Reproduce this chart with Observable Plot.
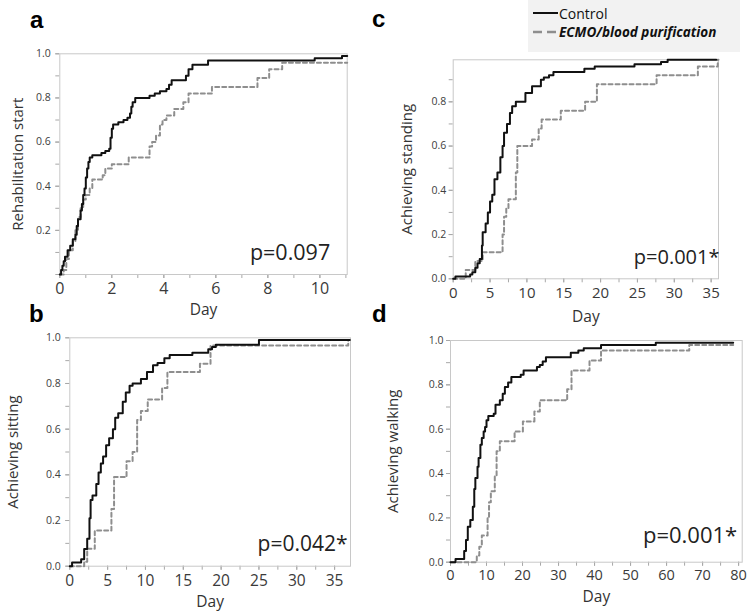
<!DOCTYPE html>
<html>
<head>
<meta charset="utf-8">
<script src="https://cdn.jsdelivr.net/npm/d3@7"></script>
<script src="https://cdn.jsdelivr.net/npm/@observablehq/plot@0.6"></script>
<style>
  body { margin: 0; background: #fff; }
  #chart { position: relative; width: 750px; height: 613px; overflow: hidden; font-family: 'Open Sans', sans-serif; }
  .panel { position: absolute; }
  .tag { position: absolute; font: bold 24px Arial, 'Liberation Sans', sans-serif; line-height: 24px; color: #000; }
  #legend { position: absolute; left: 528px; top: 0; width: 212px; height: 52px; background: #f2f2f2; }
  #legend .row { position: absolute; left: 5px; height: 18px; display: flex; align-items: center; color: #111; font-size: 14px; }
  #legend svg { width: 25px; height: 6px; margin-right: 1px; }
  #legend .ecmo { font-weight: bold; font-style: italic; font-size: 13.5px; }
</style>
</head>
<body>
<div id="chart"></div>
<script>
// Cumulative proportion reaching each milestone, as [day, proportion] steps.
const rehabControl = [[0,0],[0.05,0.02],[0.1,0.04],[0.15,0.06],[0.2,0.08],[0.3,0.11],[0.4,0.13],[0.5,0.16],[0.6,0.18],[0.65,0.22],[0.7,0.25],[0.8,0.29],[0.85,0.32],[0.9,0.36],[0.95,0.39],[1.0,0.44],[1.05,0.48],[1.1,0.51],[1.15,0.53],[1.25,0.54],[1.6,0.55],[1.75,0.56],[1.9,0.57],[1.95,0.62],[2.0,0.66],[2.05,0.68],[2.25,0.69],[2.45,0.70],[2.6,0.71],[2.7,0.73],[2.75,0.76],[2.8,0.78],[2.9,0.80],[3.45,0.81],[3.65,0.82],[3.85,0.83],[4.1,0.84],[4.2,0.86],[4.3,0.88],[4.85,0.90],[4.95,0.93],[5.1,0.95],[5.7,0.97],[9.8,0.98],[10.85,0.99],[11.05,0.99]];
const rehabEcmo = [[0,0],[0.15,0.02],[0.25,0.07],[0.35,0.11],[0.5,0.15],[0.6,0.2],[0.7,0.26],[0.8,0.3],[0.9,0.34],[1.0,0.36],[1.15,0.39],[1.25,0.43],[1.65,0.45],[1.75,0.48],[2.0,0.50],[2.65,0.53],[3.45,0.58],[3.55,0.60],[3.7,0.63],[3.85,0.68],[3.95,0.70],[4.1,0.72],[4.4,0.75],[4.75,0.78],[4.95,0.82],[5.85,0.85],[7.6,0.89],[8.05,0.93],[8.55,0.96],[11.05,0.96]];

const sittingControl = [[0,0],[0.3,0.016],[1.5,0.03],[1.9,0.075],[2.3,0.12],[2.6,0.21],[2.75,0.29],[3.0,0.31],[3.5,0.36],[3.8,0.41],[4.1,0.45],[4.4,0.48],[4.8,0.53],[5.2,0.56],[5.7,0.6],[6.0,0.65],[6.4,0.67],[7.0,0.72],[7.4,0.76],[7.9,0.79],[8.3,0.80],[9.4,0.82],[10.2,0.85],[11.0,0.88],[11.6,0.89],[12.5,0.91],[13.2,0.925],[16.2,0.935],[18.3,0.95],[18.8,0.96],[19.3,0.97],[25.0,0.99],[37.0,0.99]];
const sittingEcmo = [[0,0],[1.9,0.02],[2.3,0.076],[3.3,0.156],[5.5,0.25],[5.85,0.39],[7.5,0.46],[8.3,0.50],[8.9,0.64],[9.4,0.68],[10.3,0.73],[12.2,0.78],[12.9,0.85],[17.2,0.886],[18.6,0.966],[36.8,0.99],[37.0,0.99]];

const standingControl = [[0,0],[0.3,0.01],[2.3,0.02],[2.6,0.03],[3.0,0.05],[3.3,0.07],[3.6,0.09],[3.9,0.15],[4.0,0.21],[4.4,0.25],[4.7,0.3],[5.0,0.35],[5.3,0.38],[5.6,0.45],[6.0,0.48],[6.4,0.55],[6.7,0.6],[6.9,0.66],[7.3,0.7],[7.7,0.75],[8.0,0.78],[8.5,0.80],[9.8,0.84],[10.7,0.87],[11.9,0.90],[12.3,0.91],[13.0,0.92],[13.6,0.935],[17.8,0.95],[19.2,0.96],[24.6,0.97],[28.2,0.98],[29.1,0.99],[35.7,0.99]];
const standingEcmo = [[0,0],[1.7,0.04],[3.0,0.08],[4.0,0.12],[6.7,0.2],[6.9,0.28],[7.2,0.32],[7.5,0.36],[8.5,0.48],[8.7,0.6],[10.7,0.63],[11.6,0.68],[12.0,0.72],[14.6,0.76],[17.9,0.80],[19.5,0.88],[27.6,0.92],[33.2,0.96],[35.9,0.99],[36.0,0.99]];

const walkingControl = [[0,0],[1.4,0.015],[3.8,0.05],[4.3,0.1],[4.8,0.16],[5.5,0.19],[6.2,0.25],[6.6,0.33],[6.9,0.38],[7.5,0.43],[7.8,0.47],[8.3,0.53],[8.7,0.56],[9.2,0.59],[9.6,0.61],[10.0,0.64],[10.5,0.66],[12.0,0.67],[12.5,0.71],[13.7,0.73],[14.5,0.76],[15.1,0.79],[16.0,0.81],[16.9,0.835],[19.5,0.845],[20.3,0.865],[24.0,0.88],[24.8,0.89],[25.6,0.905],[26.5,0.925],[33.4,0.945],[35.5,0.955],[37.0,0.965],[41.8,0.98],[57.0,0.99],[78.5,0.99]];
const walkingEcmo = [[0,0],[7.3,0.03],[8.0,0.07],[8.7,0.12],[10.3,0.2],[10.7,0.27],[11.2,0.32],[12.3,0.39],[12.8,0.5],[13.7,0.545],[17.8,0.59],[20.1,0.635],[23.3,0.68],[24.8,0.73],[32.4,0.78],[33.6,0.865],[38.6,0.91],[41.8,0.955],[66.3,0.98],[78.5,0.98]];

// Axis ticks and labels
const rehabXTicks = [0, 2, 4, 6, 8, 10];
const dayXTicks37 = [0, 5, 10, 15, 20, 25, 30, 35];
const walkingXTicks = [0, 10, 20, 30, 40, 50, 60, 70, 80];
const yTicksFrom02 = [0.2, 0.4, 0.6, 0.8, 1.0];
const yTicksTo08 = [0.0, 0.2, 0.4, 0.6, 0.8];
const yTicksFull = [0.0, 0.2, 0.4, 0.6, 0.8, 1.0];
const yMinor = d3.range(0, 1.001, 0.1);

const panelLetters = ["a", "b", "c", "d"];
const yTitles = ["Rehabilitation start", "Achieving sitting", "Achieving standing", "Achieving walking"];
const pValues = ["p=0.097", "p=0.042*", "p=0.001*", "p=0.001*"];
const legendLabels = ["Control", "ECMO/blood purification"];

const FONT = "'Open Sans', 'Noto Sans', sans-serif";
const root = document.getElementById("chart");

function drawPanel(p) {
  const [fx0, fy0, fx1, fy1] = p.frame;
  const [left, top, w, h] = p.box;
  const step = d => d[0];
  const prop = d => d[1];
  const svg = Plot.plot({
    width: w,
    height: h,
    marginLeft: fx0 - left,
    marginTop: fy0 - top,
    marginRight: left + w - fx1,
    marginBottom: top + h - fy1,
    style: { fontFamily: FONT, background: "transparent", overflow: "visible" },
    x: { domain: p.xDomain },
    y: { domain: p.yDomain },
    marks: [
      Plot.axisX(p.xMinor, { tickSize: 4, tickFormat: () => "", stroke: "#a8a8a8", label: null }),
      Plot.axisX(p.xTicks, { tickSize: 4, tickPadding: p.xPad, fontSize: p.xFont, fill: "#3a3a3a", stroke: "#a8a8a8", label: null }),
      Plot.axisY(yMinor.filter(v => v <= p.yDomain[1] + 1e-9), { tickSize: 4, tickFormat: () => "", stroke: "#a8a8a8", label: null }),
      Plot.axisY(p.yTicks, { tickSize: 4, tickPadding: p.yPad, fontSize: 10.5, tickFormat: d3.format(".1f"), fill: "#404040", stroke: "#a8a8a8", label: null }),
      Plot.frame({ stroke: "#c8c8c8" }),
      Plot.line(p.ecmo, { x: step, y: prop, curve: "step-after", stroke: "#8e8e8e", strokeWidth: 2, strokeDasharray: "4,3" }),
      Plot.line(p.control, { x: step, y: prop, curve: "step-after", stroke: "#111", strokeWidth: 2 }),
      Plot.text([p.yTitle], { frameAnchor: "left", rotate: -90, dx: p.titleDx, textAnchor: "middle", lineAnchor: "middle", fontSize: 15, fill: "#333" }),
      Plot.text(["Day"], { frameAnchor: "bottom", dy: p.dayDy, lineAnchor: "middle", fontSize: 15.5, fill: "#333" }),
      Plot.text([p.pText], { frameAnchor: "bottom-right", dx: p.pDx, dy: p.pDy, textAnchor: "end", lineAnchor: "middle", fontSize: p.pFont, fill: "#222" })
    ]
  });
  svg.classList.add("panel");
  svg.style.left = left + "px";
  svg.style.top = top + "px";
  root.appendChild(svg);
}

const panels = [
  { frame: [59.3, 53.3, 346.7, 274], box: [0, 30, 375, 292], xDomain: [0, 11.05], yDomain: [0, 1],
    xTicks: rehabXTicks, xMinor: d3.range(0, 12, 1), yTicks: yTicksFrom02, xFont: 16, xPad: 4, yPad: 5,
    control: rehabControl, ecmo: rehabEcmo, yTitle: yTitles[0], titleDx: -42, dayDy: 36,
    pText: pValues[0], pDx: -17, pDy: -21, pFont: 21.5 },
  { frame: [69.3, 337.3, 350, 565.7], box: [0, 322, 375, 291], xDomain: [0, 37.1], yDomain: [0, 1],
    xTicks: dayXTicks37, xMinor: d3.range(0, 37.5, 2.5), yTicks: yTicksFull, xFont: 15.5, xPad: 5, yPad: 5,
    control: sittingControl, ecmo: sittingEcmo, yTitle: yTitles[1], titleDx: -57, dayDy: 36,
    pText: pValues[1], pDx: -3, pDy: -22, pFont: 21 },
  { frame: [452.7, 59.3, 718, 278.3], box: [375, 52, 375, 270], xDomain: [0, 36], yDomain: [0, 0.99],
    xTicks: dayXTicks37, xMinor: d3.range(0, 36.1, 2.5), yTicks: yTicksTo08, xFont: 15, xPad: 5, yPad: 3,
    control: standingControl, ecmo: standingEcmo, yTitle: yTitles[2], titleDx: -46, dayDy: 38,
    pText: pValues[2], pDx: 1, pDy: -21, pFont: 20 },
  { frame: [450, 340, 741.7, 561.7], box: [375, 322, 375, 291], xDomain: [0, 81], yDomain: [0, 1],
    xTicks: walkingXTicks, xMinor: d3.range(0, 81, 5), yTicks: yTicksFull, xFont: 14.5, xPad: 4, yPad: 3,
    control: walkingControl, ecmo: walkingEcmo, yTitle: yTitles[3], titleDx: -57, dayDy: 35,
    pText: pValues[3], pDx: -5, pDy: -26, pFont: 22 }
];
panels.forEach(drawPanel);

// Panel letters
[[30, 8], [29, 302], [372, 7], [372, 302]].forEach(([x, y], i) => {
  const el = document.createElement("div");
  el.className = "tag";
  el.style.left = x + "px";
  el.style.top = y + "px";
  el.textContent = panelLetters[i];
  root.appendChild(el);
});

// Legend
const legend = document.createElement("div");
legend.id = "legend";
legend.innerHTML = `
  <div class="row" style="top:4px"><svg viewBox="0 0 25 6"><line x1="0" x2="25" y1="3" y2="3" stroke="#111" stroke-width="2"/></svg><span>${legendLabels[0]}</span></div>
  <div class="row" style="top:23px"><svg viewBox="0 0 25 6"><line x1="0" x2="25" y1="3" y2="3" stroke="#8e8e8e" stroke-width="2.5" stroke-dasharray="9,5"/></svg><span class="ecmo">${legendLabels[1]}</span></div>`;
root.appendChild(legend);
</script>
</body>
</html>
